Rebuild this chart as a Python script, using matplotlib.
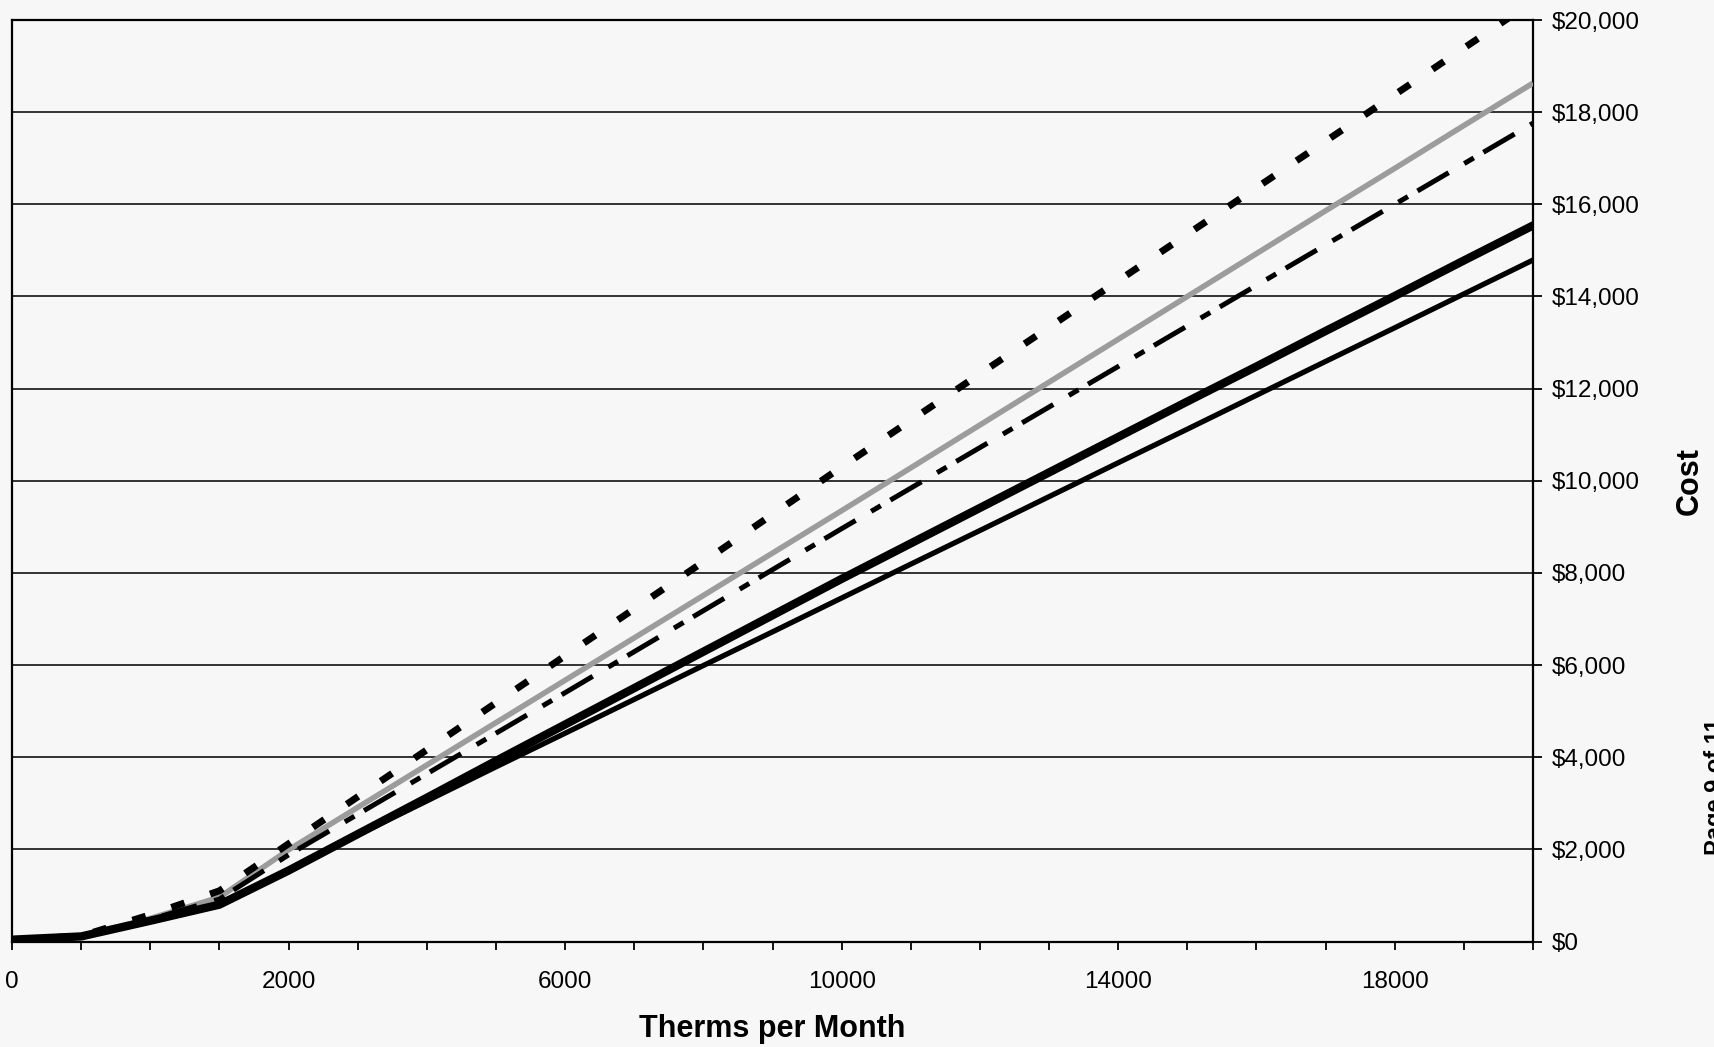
import matplotlib
matplotlib.use("Agg")
import matplotlib.pyplot as plt
import numpy as np
from matplotlib.ticker import FuncFormatter

plt.rcParams['font.family'] = ['Liberation Sans', 'DejaVu Sans']
plt.rcParams['lines.scale_dashes'] = False

# ---- data ----
therms = [0, 100, 500, 1000, 2000, 3000, 4000, 5000, 6000, 7000, 8000, 9000,
          10000, 11000, 12000, 13000, 14000, 15000, 16000, 17000, 18000, 19000, 20000]

cost_dashed = [30, 120, 580, 1100, 2120, 3140, 4160, 5180, 6200, 7220, 8240, 9270,
               10300, 11310, 12320, 13330, 14340, 15350, 16360, 17370, 18380, 19390, 20400]
cost_gray = [40, 120, 500, 960, 1990, 2910, 3830, 4750, 5670, 6590, 7510, 8430,
             9350, 10280, 11210, 12140, 13070, 14000, 14930, 15860, 16780, 17710, 18630]
cost_dashdot = [40, 120, 480, 920, 1880, 2760, 3640, 4520, 5400, 6290, 7180, 8070,
                8960, 9840, 10720, 11600, 12480, 13360, 14240, 15120, 16000, 16880, 17760]
cost_thick = [40, 110, 450, 800, 1540, 2330, 3120, 3920, 4710, 5500, 6290, 7080,
              7870, 8640, 9410, 10180, 10950, 11720, 12480, 13250, 14010, 14780, 15540]
cost_thin = [40, 100, 430, 780, 1560, 2310, 3050, 3790, 4520, 5255, 5990, 6720,
             7455, 8190, 8920, 9655, 10390, 11120, 11855, 12590, 13320, 14055, 14790]

y_ticks = [0, 2000, 4000, 6000, 8000, 10000, 12000, 14000, 16000, 18000, 20000]
label_every = 4

# ---- figure ----
W, H = 1715, 1047
fig = plt.figure(figsize=(W / 100, H / 100), dpi=100)
bg = '#f7f7f7'
fig.patch.set_facecolor(bg)
ax = fig.add_axes([12 / W, 1 - 941.5 / H, (1533 - 12) / W, (941.5 - 20) / H])
ax.set_facecolor(bg)

pos = np.arange(len(therms))

ax.plot(pos, cost_gray, color='#9c9c9c', lw=4.0, solid_capstyle='butt', zorder=3)
ax.plot(pos, cost_dashdot, color='black', lw=3.6, dashes=(26, 13, 8, 8),
        dash_capstyle='butt', zorder=4)
ax.plot(pos, cost_dashed, color='black', lw=5.0, dashes=(10, 19.5),
        dash_capstyle='butt', zorder=4)
ax.plot(pos, cost_thin, color='black', lw=3.8, zorder=5)
ax.plot(pos, cost_thick, color='black', lw=6.0, zorder=6)

ax.set_xlim(0, len(therms) - 1)
ax.set_ylim(0, 20000)

# x axis: category ticks, labels every 4th category
ax.set_xticks(pos)
ax.set_xticklabels([str(t) if i % label_every == 0 else '' for i, t in enumerate(therms)])

# y axis on the right
ax.yaxis.tick_right()
ax.yaxis.set_label_position('right')
ax.set_yticks(y_ticks)
ax.yaxis.set_major_formatter(FuncFormatter(lambda v, p: '${:,.0f}'.format(v)))

ax.tick_params(axis='x', direction='out', length=6, width=1.3, pad=15.5,
               labelsize=17.5, colors='black')
ax.tick_params(axis='y', direction='out', length=6.5, width=1.3, pad=7,
               labelsize=17.5, colors='black')

ax.grid(axis='y', color='#111111', lw=1.2, zorder=1)
ax.set_axisbelow(True)

for s in ax.spines.values():
    s.set_color('black')
    s.set_linewidth(1.6)

ax.set_xlabel('Therms per Month', fontsize=22, fontweight='bold', labelpad=15)
ax.set_ylabel('Cost', fontsize=22, fontweight='bold', labelpad=25)

# cut-off page note at the right edge of the scan
fig.text(1704 / W, 1 - 787 / H, 'Page 9 of 11', rotation=90, ha='left', va='center',
         fontsize=17, fontweight='bold', color='black')

fig.savefig('out.png', dpi=100, facecolor=bg)
